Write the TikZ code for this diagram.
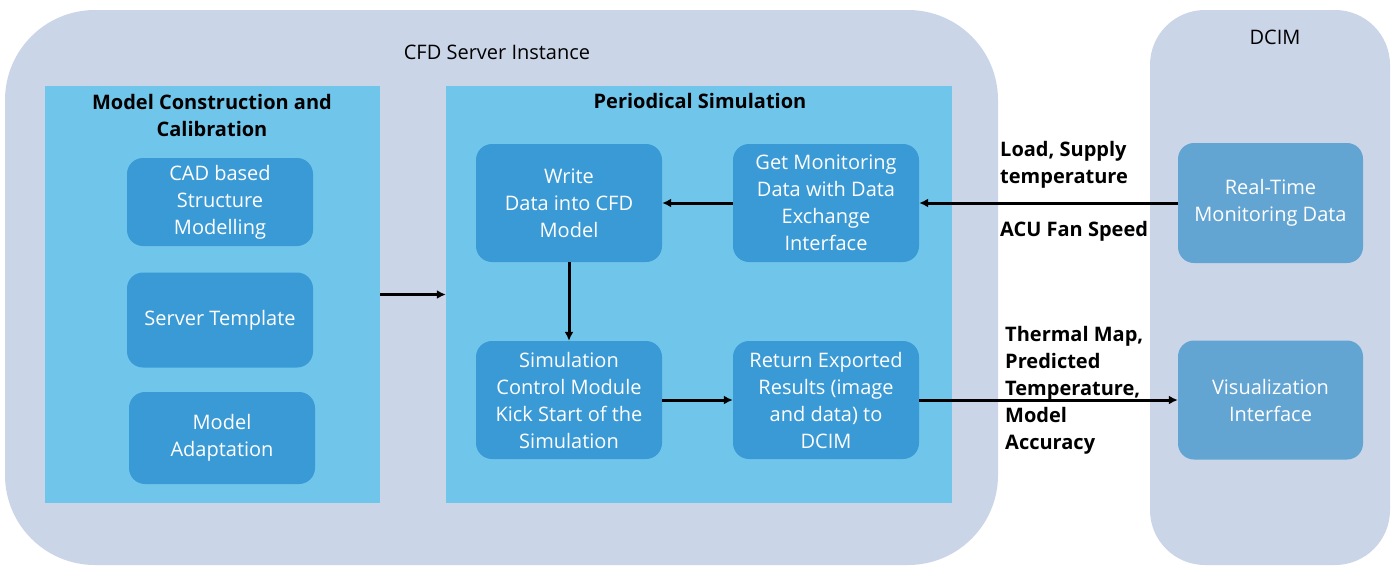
\documentclass[tikz,border=0pt]{standalone}
\usepackage{fontspec}
\setmainfont{Open Sans}
\usetikzlibrary{arrows.meta}
\definecolor{cfdbg}{HTML}{CBD5E8}
\definecolor{lightblue}{HTML}{70C5EA}
\definecolor{boxblue}{HTML}{3A9AD5}
\definecolor{dcimbox}{HTML}{62A4D2}
\newcommand\boxfont{\fontsize{20}{27}\selectfont}
\tikzset{
  container/.style={rectangle, fill=cfdbg, inner sep=0pt},
  group/.style={rectangle, fill=lightblue, inner sep=0pt},
  dbox/.style={rectangle, rounded corners=16pt, fill=boxblue, text=white, minimum width=186pt, minimum height=118pt, align=center, font=\boxfont, inner sep=0pt},
  dcbox/.style={dbox, fill=dcimbox, minimum width=185pt, minimum height=120pt},
  title/.style={font=\boxfont, align=center, inner sep=0pt},
  btitle/.style={font=\boxfont\bfseries, align=center, inner sep=0pt},
  lab/.style={font=\boxfont\bfseries, align=left, inner sep=0pt, anchor=north west},
  conn/.style={line width=3pt, -{Latex[length=9pt,width=9pt]}},
}
\begin{document}
\begin{tikzpicture}[x=1pt,y=-1pt]
\useasboundingbox (0,0) rectangle (1395,571);
\fill[white] (0,0) rectangle (1395,571);
% containers
\node[container, rounded corners=90pt, minimum width=993pt, minimum height=555pt] (cfd) at (501.5,287.5) {};
\node[container, rounded corners=55pt, minimum width=240pt, minimum height=555pt] (dcim) at (1270,287.5) {};
\node[title] (cfdt) at (497,52) {CFD Server Instance};
\node[title] (dcimt) at (1275,37) {DCIM};
\node[group, minimum width=335pt, minimum height=417pt] (mcc) at (212.5,294.5) {};
\node[group, minimum width=506pt, minimum height=417pt] (ps) at (699,294.5) {};
\node[btitle] (mcct) at (212,115) {Model Construction and\\Calibration};
\node[btitle] (pst) at (700,101) {Periodical Simulation};
% left boxes
\node[dbox, minimum height=88pt] (cad) at (220,202) {CAD based\\Structure\\Modelling};
\node[dbox, minimum height=95pt] (tmpl) at (220,320) {Server Template};
\node[dbox, minimum height=92pt] (adapt) at (222,438) {Model\\Adaptation};
% periodical simulation
\node[dbox] (write) at (569,203) {Write\\Data into CFD\\Model};
\node[dbox] (get) at (826,203) {Get Monitoring\\Data with Data\\Exchange\\Interface};
\node[dbox] (sim) at (569,400) {Simulation\\Control Module\\Kick Start of the\\Simulation};
\node[dbox] (ret) at (826,400) {Return Exported\\Results (image\\and data) to\\DCIM};
% DCIM
\node[dcbox] (rt) at (1270.5,203) {Real-Time\\Monitoring Data};
\node[dcbox, minimum height=119pt] (vis) at (1270.5,400) {Visualization\\Interface};
% connectors
\draw[conn] (mcc.east) -- (ps.west);
\draw[conn] (get.west) -- (write.east);
\draw[conn] (write.south) -- (sim.north);
\draw[conn] (sim.east) -- (ret.west);
\draw[conn] (rt.west) -- (get.east);
\draw[conn] (ret.east) -- (vis.west);
% labels
\node[lab] (l1) at (1000,141) {Load, Supply\\temperature};
\node[lab] (l2) at (1000,221) {ACU Fan Speed};
\node[lab] (l3) at (1005,326) {Thermal Map,\\Predicted\\Temperature,\\Model\\Accuracy};
\end{tikzpicture}
\end{document}
